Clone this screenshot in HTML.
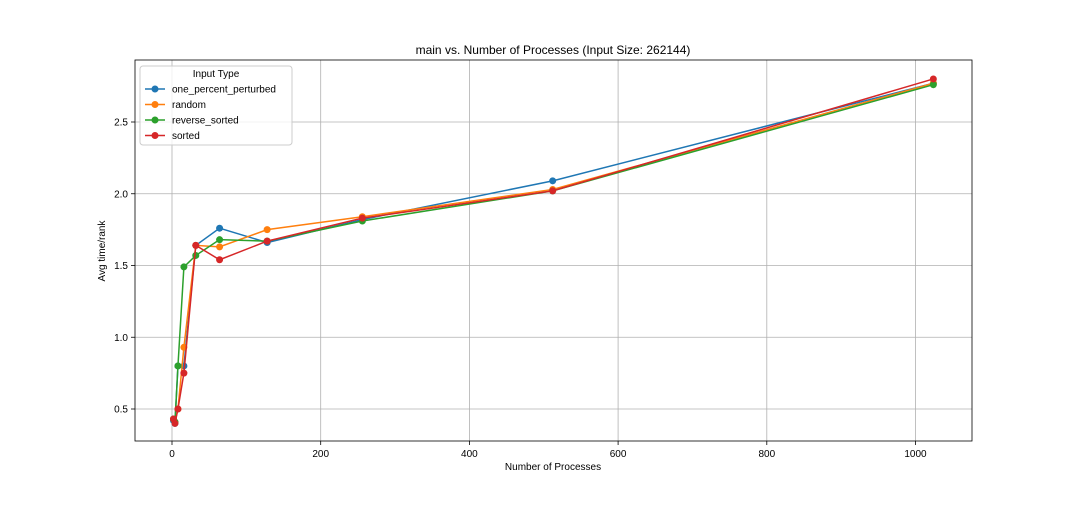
<!DOCTYPE html>
<html><head><meta charset="utf-8"><style>
body{margin:0;background:#fff;font-family:"Liberation Sans","DejaVu Sans",sans-serif}
svg text{font-family:"Liberation Sans","DejaVu Sans",sans-serif}
</style></head><body>
<svg id="chart" width="1080" height="504" xmlns="http://www.w3.org/2000/svg">
<rect width="1080" height="504" fill="#fff"/>
<g id="grid"></g><g id="series"></g>
<rect x="135" y="60" width="837" height="381" fill="none" stroke="#000" stroke-width="0.8"/>
<g id="axes"></g>
<text x="553" y="54" text-anchor="middle" font-size="12">main vs. Number of Processes (Input Size: 262144)</text>
<text x="553" y="470" text-anchor="middle" font-size="10">Number of Processes</text>
<text transform="translate(105,251) rotate(-90)" text-anchor="middle" font-size="10">Avg time/rank</text>
<g id="legend"></g>
</svg>
<script>
const xValues=[2,4,8,16,32,64,128,256,512,1024];
const seriesNames=["one_percent_perturbed","random","reverse_sorted","sorted"];
const seriesColors=["#1f77b4","#ff7f0e","#2ca02c","#d62728"];
const onePercent=[0.42,0.40,0.80,0.80,1.64,1.76,1.66,1.82,2.09,2.77];
const randomVals=[0.43,0.41,0.50,0.93,1.64,1.63,1.75,1.84,2.03,2.77];
const reverseSorted=[0.43,0.41,0.80,1.49,1.57,1.68,1.67,1.81,2.02,2.76];
const sortedVals=[0.43,0.40,0.50,0.75,1.64,1.54,1.67,1.83,2.02,2.80];
const xTicks=[0,200,400,600,800,1000];
const yTicks=[0.5,1.0,1.5,2.0,2.5];
const NS="http://www.w3.org/2000/svg";
const xs=v=>172+v*0.7435;
const ys=v=>122+(2.5-v)*143.5;
function mk(tag,attrs,parent){const e=document.createElementNS(NS,tag);for(const k in attrs)e.setAttribute(k,attrs[k]);document.getElementById(parent).appendChild(e);return e;}
xTicks.forEach(t=>{
 const g=mk("line",{x1:xs(t),x2:xs(t),y1:60,y2:441,stroke:"#b0b0b0","stroke-width":0.8},"grid");
 
 
 mk("line",{x1:xs(t),x2:xs(t),y1:441,y2:445,stroke:"#000","stroke-width":0.8},"axes");
 const l=mk("text",{x:xs(t),y:457,"text-anchor":"middle","font-size":10},"axes");l.textContent=t;
 
 
});
yTicks.forEach(t=>{
 const g=mk("line",{x1:135,x2:972,y1:ys(t),y2:ys(t),stroke:"#b0b0b0","stroke-width":0.8},"grid");
 
 
 mk("line",{x1:131,x2:135,y1:ys(t),y2:ys(t),stroke:"#000","stroke-width":0.8},"axes");
 const l=mk("text",{x:128,y:ys(t)+3.5,"text-anchor":"end","font-size":10},"axes");l.textContent=t.toFixed(1);
 
 
});
const allSeries=[onePercent,randomVals,reverseSorted,sortedVals];
allSeries.forEach((vals,i)=>{
 const p=mk("polyline",{points:vals.map((v,j)=>xs(xValues[j])+","+ys(v)).join(" "),fill:"none",stroke:seriesColors[i],"stroke-width":1.5},"series");
 
 
 vals.forEach((v,j)=>{
  const c=mk("circle",{cx:xs(xValues[j]),cy:ys(v),r:3.5,fill:seriesColors[i]},"series");
  
  
 });
});
const box=mk("rect",{x:140,y:66,width:152,height:79,fill:"#fff","fill-opacity":0.8,stroke:"#ccc",rx:3},"legend");


const lt=mk("text",{x:216,y:77,"text-anchor":"middle","font-size":10},"legend");lt.textContent="Input Type";


seriesNames.forEach((n,i)=>{
 const y=89+i*15.5;
 mk("line",{x1:145,x2:165,y1:y,y2:y,stroke:seriesColors[i],"stroke-width":1.5},"legend");
 mk("circle",{cx:155,cy:y,r:3.5,fill:seriesColors[i]},"legend");
 const t=mk("text",{x:172,y:y+3.5,"font-size":10},"legend");t.textContent=n;
 
 
});
</script>
</body></html>
